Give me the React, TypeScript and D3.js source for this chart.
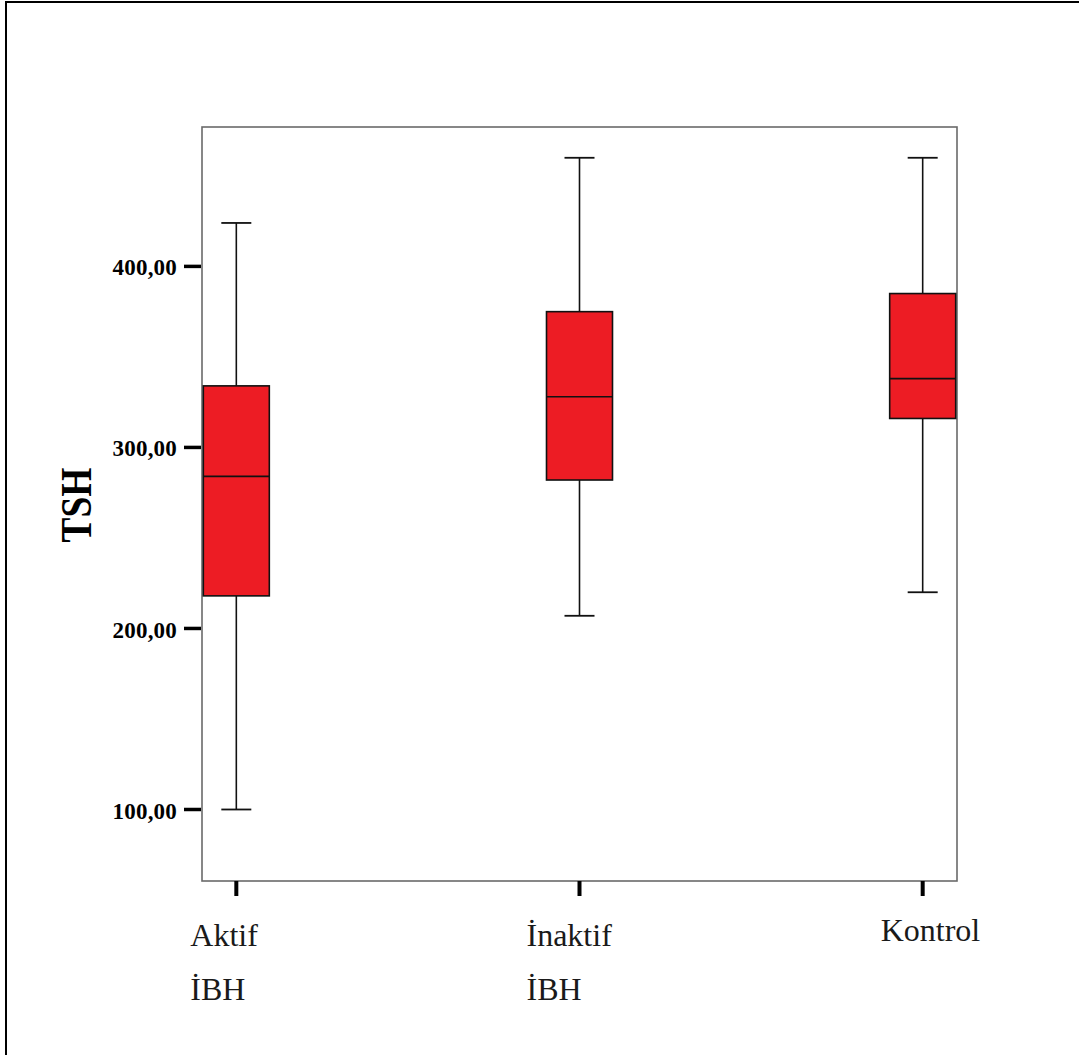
import React, { useEffect, useRef } from "react";
import * as d3 from "d3";

// groups and their label lines
const groups = ["Aktif İBH", "İnaktif İBH", "Kontrol"];
const groupLines = [["Aktif", "İBH"], ["İnaktif", "İBH"], ["Kontrol"]];
const labelShift = [-46, -53, -42];

// box statistics
const whiskerLow = [100, 207, 220];
const q1 = [218, 282, 316];
const median = [284, 328, 338];
const q3 = [334, 375, 385];
const whiskerHigh = [424, 460, 460];

const yTicks = [100, 200, 300, 400];

export default function App() {
  const svgRef = useRef<SVGSVGElement>(null);

  useEffect(() => {
    const width = 1079;
    const height = 1055;
    const svg = d3.select(svgRef.current);
    svg.selectAll("*").remove();
    svg.attr("width", width).attr("height", height);

    const plot = { left: 202, right: 957, top: 127, bottom: 881 };

    const x = d3
      .scalePoint<string>()
      .domain(groups)
      .range([plot.left, plot.right])
      .padding(0.1);

    const y = d3
      .scaleLinear()
      .domain([60.5, 477])
      .range([plot.bottom, plot.top]);

    const serif = "'Liberation Serif', 'Times New Roman', serif";

    // outer frame (left + top only)
    svg.append("line")
      .attr("x1", 6).attr("x2", 6).attr("y1", 2).attr("y2", height)
      .attr("stroke", "#000").attr("stroke-width", 2);
    svg.append("line")
      .attr("x1", 5).attr("x2", width).attr("y1", 2).attr("y2", 2)
      .attr("stroke", "#000").attr("stroke-width", 2);

    // plot frame
    svg.append("rect")
      .attr("x", plot.left)
      .attr("y", plot.top)
      .attr("width", plot.right - plot.left)
      .attr("height", plot.bottom - plot.top)
      .attr("fill", "none")
      .attr("stroke", "#6a6a6a")
      .attr("stroke-width", 1.6);

    // y ticks + labels
    const yAxis = svg.append("g");
    yTicks.forEach((t) => {
      yAxis.append("line")
        .attr("x1", 184).attr("x2", 201)
        .attr("y1", y(t)).attr("y2", y(t))
        .attr("stroke", "#000").attr("stroke-width", 3.5);
      yAxis.append("text")
        .attr("x", 177)
        .attr("y", y(t) + 1)
        .attr("dy", "0.35em")
        .attr("text-anchor", "end")
        .attr("font-family", serif)
        .attr("font-weight", "bold")
        .attr("font-size", "23px")
        .attr("letter-spacing", "0.2px")
        .attr("fill", "#000")
        .text(d3.format(".2f")(t).replace(".", ","));
    });

    // y title
    svg.append("text")
      .attr("transform", `translate(91, 505) rotate(-90) scale(0.85, 1)`)
      .attr("text-anchor", "middle")
      .attr("font-family", serif)
      .attr("font-weight", "bold")
      .attr("font-size", "44px")
      .attr("fill", "#000")
      .text("TSH");

    // x ticks + labels
    groups.forEach((g, i) => {
      const cx = x(g)!;
      svg.append("line")
        .attr("x1", cx).attr("x2", cx)
        .attr("y1", plot.bottom).attr("y2", plot.bottom + 15)
        .attr("stroke", "#000").attr("stroke-width", 4);
      const lines = groupLines[i];
      lines.forEach((ln, j) => {
        svg.append("text")
          .attr("x", cx + labelShift[i])
          .attr("y", (lines.length > 1 ? 946 : 941) + j * 54)
          .attr("text-anchor", "start")
          .attr("font-family", serif)
          .attr("font-size", "32px")
          .attr("fill", "#1a1a1a")
          .text(ln);
      });
    });

    // boxes
    const boxW = 66;
    const capW = 30;
    groups.forEach((g, i) => {
      const cx = x(g)!;
      const b = svg.append("g");
      // whiskers
      b.append("line")
        .attr("x1", cx).attr("x2", cx)
        .attr("y1", y(whiskerHigh[i])).attr("y2", y(q3[i]))
        .attr("stroke", "#111").attr("stroke-width", 1.6);
      b.append("line")
        .attr("x1", cx).attr("x2", cx)
        .attr("y1", y(q1[i])).attr("y2", y(whiskerLow[i]))
        .attr("stroke", "#111").attr("stroke-width", 1.6);
      [whiskerHigh[i], whiskerLow[i]].forEach((v) => {
        b.append("line")
          .attr("x1", cx - capW / 2).attr("x2", cx + capW / 2)
          .attr("y1", y(v)).attr("y2", y(v))
          .attr("stroke", "#111").attr("stroke-width", 1.8);
      });
      // box
      b.append("rect")
        .attr("x", cx - boxW / 2)
        .attr("y", y(q3[i]))
        .attr("width", boxW)
        .attr("height", y(q1[i]) - y(q3[i]))
        .attr("fill", "#ed1c24")
        .attr("stroke", "#111")
        .attr("stroke-width", 1.6);
      // median
      b.append("line")
        .attr("x1", cx - boxW / 2).attr("x2", cx + boxW / 2)
        .attr("y1", y(median[i])).attr("y2", y(median[i]))
        .attr("stroke", "#111").attr("stroke-width", 1.6);
    });
  }, []);

  return (
    <svg
      ref={svgRef}
      style={{ position: "absolute", left: 0, top: 0, background: "#fff" }}
    />
  );
}
